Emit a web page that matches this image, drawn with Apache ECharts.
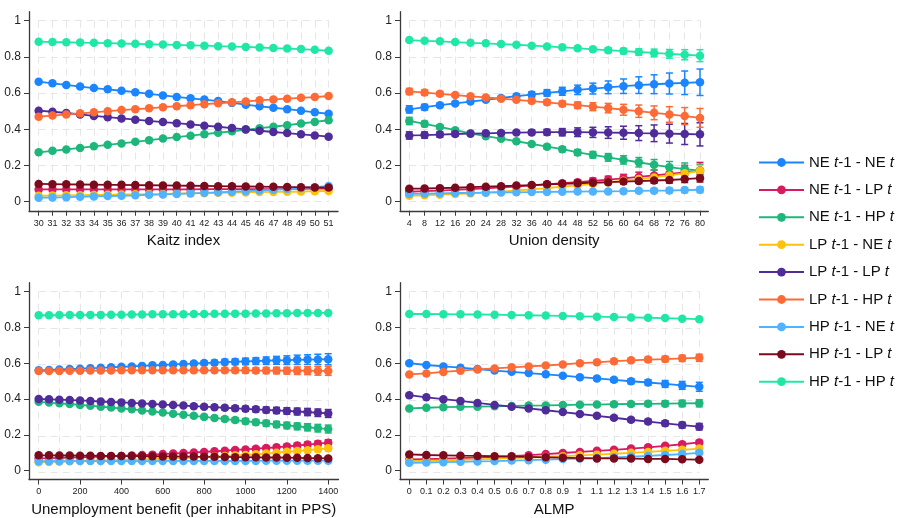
<!DOCTYPE html>
<html><head><meta charset="utf-8">
<script src="https://cdn.jsdelivr.net/npm/echarts@6/dist/echarts.min.js"></script>
<style>html,body{margin:0;padding:0;background:#fff}#c{width:901px;height:518px}</style>
</head><body><div id="c"></div>
<script>
const seriesNames = ['NE t-1 - NE t','NE t-1 - LP t','NE t-1 - HP t','LP t-1 - NE t','LP t-1 - LP t','LP t-1 - HP t','HP t-1 - NE t','HP t-1 - LP t','HP t-1 - HP t'];
const seriesColors = ['#1a85ff','#d81b60','#1db77b','#ffc20a','#4f2c9a','#fe6a35','#4fb3ff','#7b0a1c','#1fe8a6'];
const yTicks = [0,0.2,0.4,0.6,0.8,1];
const axisTitles = ['Kaitz index','Union density','Unemployment benefit (per inhabitant in PPS)','ALMP'];

const kaitzX = [30,31,32,33,34,35,36,37,38,39,40,41,42,43,44,45,46,47,48,49,50,51];
const kaitzValues = [
 [.663,.654,.645,.636,.628,.621,.613,.605,.596,.587,.579,.571,.564,.556,.546,.536,.527,.519,.511,.503,.494,.486],
 [.068,.068,.068,.068,.068,.068,.068,.068,.068,.068,.068,.068,.069,.069,.069,.069,.070,.070,.071,.071,.072,.073],
 [.273,.281,.289,.297,.306,.314,.322,.331,.340,.349,.357,.365,.373,.381,.389,.397,.406,.414,.423,.432,.441,.450],
 [.033,.034,.035,.036,.037,.038,.040,.041,.042,.043,.045,.046,.047,.049,.050,.051,.053,.054,.055,.056,.058,.059],
 [.503,.497,.490,.482,.474,.467,.460,.453,.446,.440,.434,.427,.420,.414,.407,.400,.392,.385,.379,.372,.366,.359],
 [.470,.476,.482,.488,.494,.500,.506,.511,.516,.522,.528,.533,.539,.544,.549,.554,.560,.565,.569,.574,.578,.584],
 [.022,.023,.025,.027,.029,.031,.033,.035,.038,.040,.043,.046,.049,.052,.055,.058,.062,.066,.070,.075,.080,.087],
 [.098,.097,.096,.095,.094,.093,.093,.092,.091,.090,.089,.088,.087,.086,.085,.084,.083,.082,.081,.080,.079,.078],
 [.884,.882,.881,.879,.878,.876,.874,.872,.870,.868,.866,.864,.862,.859,.857,.855,.852,.849,.846,.843,.839,.834]
];

const unionX = [4,8,12,16,20,24,28,32,36,40,44,48,52,56,60,64,68,72,76,80];
const unionValues = [
 [.510,.522,.533,.543,.553,.563,.573,.583,.592,.601,.610,.618,.625,.632,.638,.644,.649,.653,.657,.660],
 [.055,.058,.061,.065,.069,.074,.079,.084,.090,.096,.102,.108,.115,.122,.129,.137,.145,.153,.162,.172],
 [.446,.430,.413,.395,.378,.362,.348,.334,.319,.304,.290,.272,.259,.245,.231,.218,.204,.191,.180,.171],
 [.033,.035,.039,.042,.046,.051,.056,.062,.068,.075,.083,.091,.099,.107,.116,.125,.134,.145,.157,.171],
 [.366,.368,.371,.374,.376,.378,.380,.382,.383,.384,.384,.384,.383,.382,.381,.379,.378,.376,.374,.372],
 [.609,.603,.596,.589,.582,.576,.569,.563,.556,.549,.541,.533,.525,.517,.508,.500,.491,.482,.473,.463],
 [.043,.044,.046,.048,.049,.050,.051,.052,.053,.054,.055,.056,.057,.057,.058,.060,.061,.062,.064,.066],
 [.072,.073,.075,.077,.080,.083,.086,.089,.092,.096,.099,.102,.105,.108,.111,.114,.117,.120,.125,.130],
 [.893,.889,.886,.882,.878,.875,.871,.867,.862,.858,.853,.848,.842,.837,.832,.827,.822,.817,.812,.807]
];
const unionErrors = [
 [.020,.016,.012,.010,.008,.008,.010,.012,.015,.018,.022,.026,.030,.035,.040,.046,.052,.058,.065,.073],
 [.006,.005,.005,.004,.004,.004,.005,.006,.007,.009,.011,.013,.016,.019,.022,.026,.030,.034,.039,.045],
 [.020,.015,.011,.008,.006,.006,.007,.008,.010,.012,.014,.016,.018,.021,.023,.026,.029,.031,.034,.036],
 [.006,.005,.004,.004,.004,.004,.005,.006,.007,.008,.010,.011,.013,.015,.017,.019,.021,.023,.026,.029],
 [.020,.017,.015,.012,.010,.009,.009,.010,.012,.016,.020,.024,.028,.032,.036,.041,.046,.052,.058,.064],
 [.017,.014,.012,.010,.008,.007,.007,.008,.010,.012,.015,.018,.022,.026,.030,.034,.038,.043,.047,.052],
 [.005,.004,.004,.003,.003,.003,.003,.004,.004,.005,.006,.007,.008,.009,.010,.011,.012,.013,.014,.016],
 [.006,.005,.004,.004,.003,.003,.004,.004,.005,.006,.007,.008,.009,.010,.012,.013,.015,.017,.019,.021],
 [.005,.004,.003,.003,.002,.002,.003,.004,.005,.006,.007,.009,.011,.013,.015,.018,.021,.024,.028,.033]
];

const benefitX = [0,50,100,150,200,250,300,350,400,450,500,550,600,650,700,750,800,850,900,950,1000,1050,1100,1150,1200,1250,1300,1350,1400];
const benefitTicks = [0,200,400,600,800,1000,1200,1400];
const benefitValues = [
 [.560,.562,.565,.567,.569,.572,.574,.577,.580,.582,.585,.588,.590,.593,.596,.598,.601,.603,.606,.608,.610,.612,.614,.616,.617,.619,.620,.621,.622],
 [.068,.069,.071,.072,.074,.076,.078,.080,.082,.084,.087,.089,.092,.095,.098,.101,.104,.108,.111,.115,.118,.122,.126,.130,.135,.140,.145,.150,.156],
 [.384,.380,.376,.372,.367,.362,.357,.352,.347,.342,.336,.330,.324,.318,.312,.306,.300,.294,.288,.282,.276,.270,.264,.258,.252,.247,.242,.237,.232],
 [.046,.048,.050,.052,.054,.055,.056,.058,.059,.061,.062,.064,.066,.068,.071,.073,.076,.079,.081,.084,.087,.091,.095,.100,.105,.109,.114,.119,.124],
 [.400,.398,.396,.394,.392,.389,.386,.383,.381,.378,.375,.372,.369,.366,.363,.360,.357,.354,.351,.348,.345,.342,.339,.336,.333,.330,.327,.323,.319],
 [.556,.557,.557,.558,.558,.559,.559,.559,.560,.560,.560,.560,.560,.560,.560,.560,.560,.560,.560,.560,.560,.559,.559,.559,.558,.558,.558,.557,.557],
 [.052,.052,.052,.053,.053,.053,.053,.053,.053,.053,.053,.053,.054,.054,.054,.054,.054,.054,.054,.054,.054,.054,.055,.055,.055,.055,.055,.055,.055],
 [.085,.085,.084,.084,.083,.083,.082,.082,.081,.081,.080,.080,.079,.079,.078,.078,.077,.077,.076,.075,.075,.074,.073,.073,.072,.071,.070,.069,.068],
 [.868,.868,.869,.869,.869,.870,.870,.871,.871,.872,.872,.873,.873,.874,.874,.875,.875,.876,.876,.877,.877,.878,.878,.879,.879,.880,.880,.881,.881]
];
const benefitErrors = [
 [.006,.005,.004,.004,.003,.003,.003,.003,.004,.004,.005,.006,.007,.008,.009,.010,.012,.013,.015,.016,.018,.019,.021,.022,.024,.026,.027,.029,.031],
 [.003,.003,.002,.002,.002,.002,.002,.002,.002,.003,.003,.003,.004,.004,.005,.005,.006,.007,.007,.008,.009,.010,.011,.011,.012,.013,.014,.015,.016],
 [.006,.005,.004,.004,.003,.003,.003,.003,.004,.004,.005,.005,.006,.007,.008,.009,.010,.011,.012,.013,.014,.015,.016,.017,.018,.019,.020,.021,.022],
 [.003,.002,.002,.002,.002,.002,.002,.002,.002,.002,.003,.003,.003,.004,.004,.005,.005,.006,.007,.007,.008,.009,.010,.010,.011,.012,.013,.014,.015],
 [.006,.005,.004,.004,.003,.003,.003,.003,.004,.004,.005,.005,.006,.007,.008,.009,.010,.011,.012,.013,.014,.015,.016,.017,.018,.019,.020,.021,.022],
 [.005,.004,.004,.003,.003,.003,.003,.003,.004,.004,.005,.005,.006,.007,.008,.009,.010,.011,.012,.013,.014,.015,.017,.018,.019,.021,.022,.024,.025],
 [.002,.002,.002,.002,.002,.002,.002,.002,.002,.002,.002,.002,.002,.002,.003,.003,.003,.003,.003,.003,.003,.004,.004,.004,.004,.004,.005,.005,.005],
 [.003,.003,.002,.002,.002,.002,.002,.002,.002,.002,.002,.002,.003,.003,.003,.003,.003,.004,.004,.004,.004,.005,.005,.005,.006,.006,.006,.007,.007],
 [.002,.002,.002,.002,.002,.002,.002,.002,.002,.002,.002,.002,.002,.002,.003,.003,.003,.003,.003,.003,.003,.004,.004,.004,.004,.004,.005,.005,.005]
];

const almpX = [0,0.1,0.2,0.3,0.4,0.5,0.6,0.7,0.8,0.9,1,1.1,1.2,1.3,1.4,1.5,1.6,1.7];
const almpValues = [
 [.600,.590,.582,.575,.567,.559,.552,.545,.538,.530,.522,.515,.507,.499,.492,.484,.476,.468],
 [.062,.064,.066,.069,.072,.076,.080,.086,.092,.098,.104,.110,.116,.123,.130,.138,.147,.157],
 [.347,.351,.354,.356,.357,.359,.361,.363,.364,.366,.368,.369,.371,.372,.373,.374,.375,.376],
 [.053,.055,.057,.060,.063,.066,.069,.072,.076,.080,.085,.089,.094,.099,.104,.110,.116,.123],
 [.421,.409,.399,.389,.378,.367,.357,.347,.337,.327,.316,.306,.295,.284,.274,.264,.254,.245],
 [.537,.543,.551,.558,.565,.571,.577,.582,.587,.593,.600,.605,.611,.616,.620,.623,.627,.630],
 [.043,.045,.047,.049,.051,.053,.056,.058,.061,.064,.067,.070,.074,.078,.082,.087,.092,.099],
 [.090,.087,.085,.083,.082,.080,.078,.076,.074,.072,.070,.068,.068,.067,.065,.065,.063,.061],
 [.875,.875,.874,.873,.872,.871,.869,.868,.866,.864,.862,.860,.858,.856,.854,.852,.849,.846]
];
const almpErrors = [
 [.006,.005,.004,.003,.003,.003,.004,.005,.006,.007,.008,.010,.012,.014,.016,.019,.022,.025],
 [.003,.003,.002,.002,.002,.002,.002,.003,.003,.004,.004,.005,.006,.007,.008,.009,.010,.012],
 [.006,.005,.004,.003,.003,.003,.004,.005,.006,.007,.008,.009,.011,.012,.014,.016,.018,.020],
 [.003,.002,.002,.002,.002,.002,.002,.002,.003,.003,.004,.004,.005,.006,.007,.008,.009,.010],
 [.006,.005,.004,.003,.003,.003,.003,.004,.005,.006,.007,.008,.009,.011,.012,.014,.016,.018],
 [.005,.004,.004,.003,.003,.003,.003,.004,.005,.006,.007,.008,.010,.011,.013,.015,.017,.020],
 [.002,.002,.002,.002,.002,.002,.002,.002,.002,.002,.003,.003,.003,.004,.004,.005,.005,.006],
 [.003,.003,.002,.002,.002,.002,.002,.002,.002,.002,.003,.003,.003,.004,.004,.004,.005,.005],
 [.002,.002,.002,.002,.002,.002,.002,.002,.002,.002,.003,.003,.003,.003,.004,.004,.004,.005]
];

// ---------- layout ----------
const FONT = '"Liberation Sans", Arial, Helvetica, sans-serif';
const AXIS_COLOR = '#3a3a3a';
const GRID_COLOR = '#e6e6e6';
const YMIN = -0.05, YMAX = 1.05;
const panels = [
  {x: kaitzX, ticks: kaitzX, vals: kaitzValues, errs: null, left: 29, top: 11.65, width: 309, height: 199.1,
   xmin: 29.3, xmax: 51.68, gMin: 30, gMax: 51, gStep: 1, fmt: v => String(v)},
  {x: unionX, ticks: unionX, vals: unionValues, errs: unionErrors, left: 400, top: 11.65, width: 308.3, height: 199.1,
   xmin: 1.57, xmax: 82.17, gMin: 4, gMax: 80, gStep: 4, fmt: v => String(v)},
  {x: benefitX, ticks: benefitTicks, vals: benefitValues, errs: benefitErrors, left: 29, top: 282.67, width: 309.5, height: 198.7,
   xmin: -46.8, xmax: 1449.7, gMin: 0, gMax: 1400, gStep: 100, fmt: v => String(v)},
  {x: almpX, ticks: almpX, vals: almpValues, errs: almpErrors, left: 400, top: 282.67, width: 308.3, height: 198.7,
   xmin: -0.0545, xmax: 1.753, gMin: 0, gMax: 1.7, gStep: 0.1, fmt: v => String(+(+v).toFixed(1))}
];

const grids = [], xAxes = [], yAxes = [], series = [];

panels.forEach((p, pi) => {
  const sx = v => p.left + (v - p.xmin) / (p.xmax - p.xmin) * p.width;
  const sy = v => p.top + (YMAX - v) / (YMAX - YMIN) * p.height;
  const gi = grids.length;
  grids.push({left: sx(p.gMin), top: sy(1), width: sx(p.gMax) - sx(p.gMin), height: sy(0) - sy(1), containLabel: false});
  xAxes.push({gridIndex: gi, type: 'value', min: p.gMin, max: p.gMax, interval: p.gStep,
    axisLine: {show: false}, axisTick: {show: false}, axisLabel: {show: false},
    splitLine: {show: true, lineStyle: {color: GRID_COLOR, type: [7, 5], width: 1}}});
  yAxes.push({gridIndex: gi, type: 'value', min: 0, max: 1, interval: 0.2,
    axisLine: {show: false}, axisTick: {show: false}, axisLabel: {show: false},
    splitLine: {show: true, lineStyle: {color: GRID_COLOR, type: [7, 5], width: 1}}});
  const mi = grids.length;
  grids.push({left: p.left, top: p.top, width: p.width, height: p.height, containLabel: false});
  xAxes.push({gridIndex: mi, type: 'value', min: p.xmin, max: p.xmax,
    name: axisTitles[pi], nameLocation: 'middle', nameGap: 22.5,
    nameTextStyle: {fontFamily: FONT, fontSize: 15, color: '#111'},
    axisLine: {show: true, onZero: false, lineStyle: {color: AXIS_COLOR, width: 1.3}},
    axisTick: {show: true, length: 5, customValues: p.ticks, lineStyle: {color: AXIS_COLOR, width: 1}},
    axisLabel: {customValues: p.ticks, formatter: p.fmt, fontFamily: FONT, fontSize: 9, color: '#222', margin: 8},
    splitLine: {show: false}});
  yAxes.push({gridIndex: mi, type: 'value', min: YMIN, max: YMAX,
    axisLine: {show: true, onZero: false, lineStyle: {color: AXIS_COLOR, width: 1.3}},
    axisTick: {show: true, length: 5, customValues: yTicks, lineStyle: {color: AXIS_COLOR, width: 1}},
    axisLabel: {customValues: yTicks, formatter: v => String(+(+v).toFixed(1)), fontFamily: FONT, fontSize: 12, color: '#222', margin: 8},
    splitLine: {show: false}});

  p.vals.forEach((vals, si) => {
    const color = seriesColors[si];
    if (p.errs) {
      const e = p.errs[si];
      series.push({
        type: 'custom', name: seriesNames[si] + ' CI', xAxisIndex: mi, yAxisIndex: mi,
        data: p.x.map((xv, i) => [xv, vals[i] - e[i], vals[i] + e[i]]),
        encode: {x: 0, y: [1, 2]}, silent: true, z: 2,
        renderItem: (params, api) => {
          const xv = api.value(0);
          const lo = api.coord([xv, api.value(1)]);
          const hi = api.coord([xv, api.value(2)]);
          const cw = 3.5;
          const st = {stroke: color, lineWidth: 1.5};
          return {type: 'group', children: [
            {type: 'line', shape: {x1: lo[0], y1: lo[1], x2: hi[0], y2: hi[1]}, style: st},
            {type: 'line', shape: {x1: lo[0] - cw, y1: lo[1], x2: lo[0] + cw, y2: lo[1]}, style: st},
            {type: 'line', shape: {x1: hi[0] - cw, y1: hi[1], x2: hi[0] + cw, y2: hi[1]}, style: st}
          ]};
        }
      });
    }
    series.push({
      type: 'line', name: seriesNames[si], xAxisIndex: mi, yAxisIndex: mi,
      data: p.x.map((xv, i) => [xv, vals[i]]),
      symbol: 'circle', symbolSize: 8.5, showSymbol: true, z: 2,
      lineStyle: {color: color, width: 1.8}, itemStyle: {color: color},
      emphasis: {disabled: true}
    });
  });
});

const chart = echarts.init(document.getElementById('c'), null, {renderer: 'canvas'});
chart.setOption({
  animation: false,
  backgroundColor: '#ffffff',
  grid: grids, xAxis: xAxes, yAxis: yAxes, series: series,
  legend: {
    show: true, orient: 'vertical', left: 753, top: 150,
    itemWidth: 45, itemHeight: 11, itemGap: 12.4,
    data: seriesNames,
    selectedMode: false,
    formatter: name => {
      const parts = name.split(' t-1 - ');
      const to = parts[1].slice(0, -2);
      return '{a|' + parts[0] + ' }{i|t}{a|-1 - ' + to + ' }{i|t}';
    },
    textStyle: {
      fontFamily: FONT, fontSize: 15, color: '#111',
      rich: {
        a: {fontFamily: FONT, fontSize: 15, color: '#111', lineHeight: 16},
        i: {fontFamily: FONT, fontSize: 15, color: '#111', fontStyle: 'italic', lineHeight: 16}
      }
    }
  }
});
</script></body></html>
